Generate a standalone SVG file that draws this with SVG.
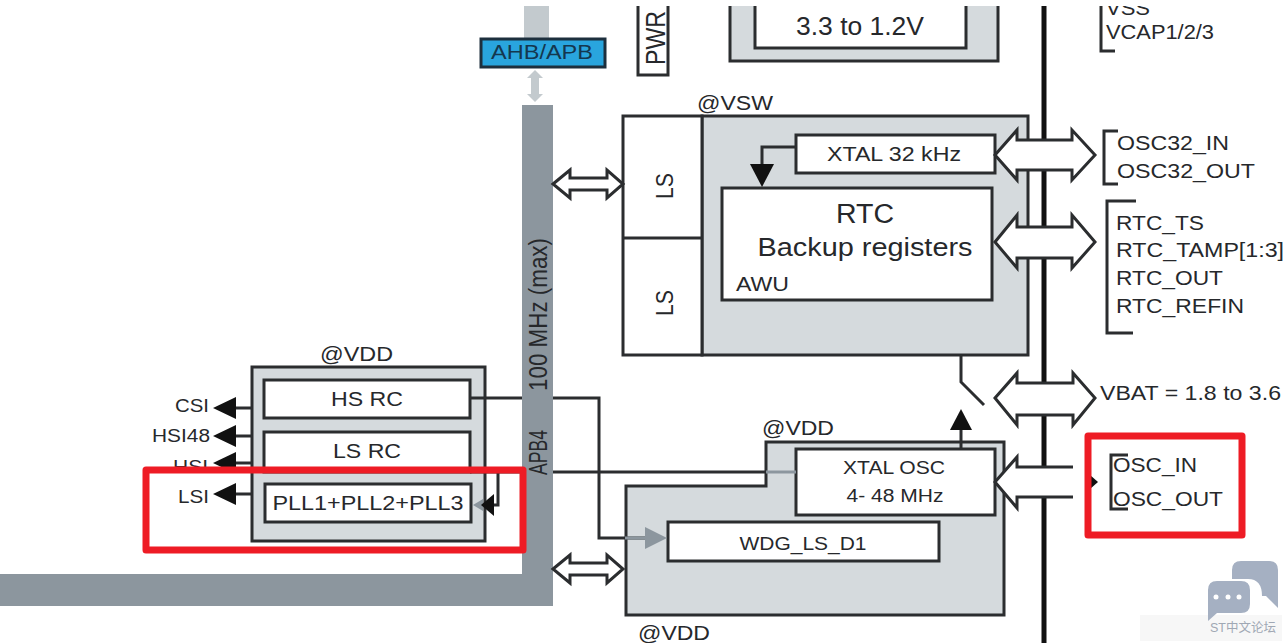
<svg xmlns="http://www.w3.org/2000/svg" width="1286" height="643" viewBox="0 0 1286 643">
<defs>
<style>
text{font-family:"Liberation Sans",Arial,sans-serif;fill:#26282b}
.m{text-anchor:middle}
.e{text-anchor:end}
.b{fill:#fff;stroke:#2b2d2f;stroke-width:3}
.g{fill:#d5dadd;stroke:#2b2d2f;stroke-width:3}
.l{fill:none;stroke:#2b2d2f;stroke-width:3}
.d{fill:#fff;stroke:#2b2d2f;stroke-width:3;stroke-linejoin:miter}
.a{fill:#111}
.r{fill:none;stroke:#ee1c25;stroke-width:7;stroke-linejoin:round}
</style>
<clipPath id="top"><rect x="0" y="6" width="1286" height="637"/></clipPath>
<clipPath id="hsi"><rect x="140" y="440" width="115" height="28"/></clipPath>
</defs>
<rect width="1286" height="643" fill="#fff"/>

<g id="buses">
<rect x="524" y="6" width="25" height="33" fill="#c3cace"/>
<path d="M535 70l8 8h-4v16h4l-8 8-8-8h4V78h-4z" fill="#c3cace"/>
<path d="M522 105h31V606H0V574H522z" fill="#8c969e"/>
<text transform="translate(547 475) rotate(-90)" font-size="25" textLength="45" lengthAdjust="spacingAndGlyphs">APB4</text>
<text transform="translate(547 391) rotate(-90)" font-size="25" textLength="153" lengthAdjust="spacingAndGlyphs">100 MHz (max)</text>
</g>

<g id="ahb-apb">
<rect x="481" y="39" width="124" height="28" fill="#29a5de" stroke="#1d2f3d" stroke-width="3"/>
<text x="542" y="59" font-size="20" class="m" style="fill:#14374f" textLength="102" lengthAdjust="spacingAndGlyphs">AHB/APB</text>
</g>

<g id="pwr" clip-path="url(#top)">
<rect x="638" y="0" width="30" height="75" class="b"/>
<text transform="translate(665 65) rotate(-90)" font-size="27" textLength="54" lengthAdjust="spacingAndGlyphs">PWR</text>
</g>

<g id="regulator" clip-path="url(#top)">
<rect x="730" y="-10" width="268" height="71" class="g"/>
<rect x="755" y="-10" width="211" height="58" class="b"/>
<text x="860" y="35" font-size="25" class="m" textLength="128" lengthAdjust="spacingAndGlyphs">3.3 to 1.2V</text>
</g>

<path id="pin-rail" d="M1044 6V643" stroke="#111" stroke-width="5" fill="none"/>

<g id="vss-pins" clip-path="url(#top)">
<path class="l" d="M1101 0V51H1115"/>
<text x="1106" y="15" font-size="20" textLength="44" lengthAdjust="spacingAndGlyphs">VSS</text>
<text x="1106" y="39" font-size="20" textLength="108" lengthAdjust="spacingAndGlyphs">VCAP1/2/3</text>
</g>

<g id="vsw-domain">
<text x="697" y="110" font-size="20" textLength="76" lengthAdjust="spacingAndGlyphs">@VSW</text>
<rect x="702" y="116" width="326" height="239" class="g"/>
<rect x="623" y="116" width="79" height="239" class="b"/>
<path class="l" d="M623 238H702"/>
<text transform="translate(673 199) rotate(-90)" font-size="23" textLength="26" lengthAdjust="spacingAndGlyphs">LS</text>
<text transform="translate(673 316) rotate(-90)" font-size="23" textLength="26" lengthAdjust="spacingAndGlyphs">LS</text>
</g>

<g id="xtal32">
<rect x="796" y="135" width="199" height="38" class="b"/>
<text x="894" y="161" font-size="20" class="m" textLength="134" lengthAdjust="spacingAndGlyphs">XTAL 32 kHz</text>
</g>

<g id="rtc">
<rect x="722" y="188" width="270" height="112" class="b"/>
<text x="865" y="223" font-size="27" class="m" textLength="58" lengthAdjust="spacingAndGlyphs">RTC</text>
<text x="865" y="256" font-size="25" class="m" textLength="215" lengthAdjust="spacingAndGlyphs">Backup registers</text>
<text x="736" y="291" font-size="21" textLength="53" lengthAdjust="spacingAndGlyphs">AWU</text>
</g>

<g id="vdd-rc">
<text x="320" y="361" font-size="20" textLength="73" lengthAdjust="spacingAndGlyphs">@VDD</text>
<rect x="252" y="367" width="233" height="174" class="g"/>
<rect x="264" y="380" width="206" height="38" class="b"/>
<text x="367" y="406" font-size="21" class="m" textLength="72" lengthAdjust="spacingAndGlyphs">HS RC</text>
<rect x="264" y="432" width="206" height="40" class="b"/>
<text x="367" y="458" font-size="21" class="m" textLength="68" lengthAdjust="spacingAndGlyphs">LS RC</text>
<rect x="265" y="484" width="206" height="38" class="b"/>
<text x="368" y="510" font-size="21" class="m" textLength="191" lengthAdjust="spacingAndGlyphs">PLL1+PLL2+PLL3</text>
</g>

<g id="vdd-osc">
<path class="g" d="M766 442H1004V615H626V486H766z"/>
<text x="762" y="435" font-size="20" textLength="72" lengthAdjust="spacingAndGlyphs">@VDD</text>
<text x="638" y="640" font-size="20" textLength="72" lengthAdjust="spacingAndGlyphs">@VDD</text>
</g>

<g id="xtal-osc">
<rect x="796" y="449" width="199" height="66" class="b"/>
<text x="894" y="474" font-size="18" class="m" textLength="102" lengthAdjust="spacingAndGlyphs">XTAL OSC</text>
<text x="895" y="502" font-size="18" class="m" textLength="97" lengthAdjust="spacingAndGlyphs">4- 48 MHz</text>
</g>

<g id="wdg">
<rect x="668" y="522" width="271" height="39" class="b"/>
<text x="803" y="550" font-size="19" class="m" textLength="127" lengthAdjust="spacingAndGlyphs">WDG_LS_D1</text>
</g>

<g id="connectors">
<path class="l" d="M470 398H522M553 398H599V538H645"/>
<path d="M625 538H648" stroke="#8c969e" stroke-width="3"/>
<path d="M645 527l22 11-22 11z" fill="#8c969e"/>
<path class="l" d="M470 472H522M553 472H766"/>
<path d="M766 472H796" stroke="#8c969e" stroke-width="3"/>
<path class="l" d="M498 472V505H490"/>
<path d="M473 505l10-6v12z" fill="#8c969e"/>
<path class="a" d="M481 505l13-11v22z"/>
<path class="l" d="M796 147H762V170"/>
<path class="a" d="M750 164h24l-12 23z"/>
<path class="l" d="M961 355V382L984 405"/>
<path class="l" d="M961 449V428"/>
<path class="a" d="M961 409l11 21H950z"/>
<path class="l" d="M252 408H232M252 436H232M252 494H232"/>
<path class="a" d="M213 408l23-11v22zM213 436l23-11v22zM213 494l23-11v22z"/>
<g clip-path="url(#hsi)"><path class="l" d="M252 463H232"/><path class="a" d="M213 463l23-11v22z"/></g>
<path class="d" d="M553 184l17-14v8h37v-8l16 14-16 14v-8H570v8z"/>
<path class="d" d="M553 569l17-14v8h37v-8l16 14-16 14v-8H570v8z"/>
<path class="d" d="M995 155l22-25v10h55v-10l23 25-23 25v-10H1017v10z"/>
<path class="d" d="M995 242l22-27v12h55v-12l23 27-23 26v-10H1017v10z"/>
<path class="d" d="M995 398l22-25v10h56v-10l22 25-22 27v-10H1017v10z"/>
<path d="M995 482l22-25v10h56v30H1017v11z" fill="#fff"/>
<path class="l" d="M1073 467H1017V457L995 482 1017 508V497H1073"/>
<path class="a" d="M1090 475l8 7-8 7z"/>
</g>

<g id="osc32-pins">
<path class="l" d="M1118 131H1104V184H1118"/>
<text x="1117" y="150" font-size="21" textLength="112" lengthAdjust="spacingAndGlyphs">OSC32_IN</text>
<text x="1117" y="178" font-size="21" textLength="138" lengthAdjust="spacingAndGlyphs">OSC32_OUT</text>
</g>

<g id="rtc-pins">
<path class="l" d="M1136 201H1107V333H1133"/>
<text x="1116" y="230" font-size="20.500" textLength="88" lengthAdjust="spacingAndGlyphs">RTC_TS</text>
<text x="1116" y="257" font-size="20.500" textLength="168" lengthAdjust="spacingAndGlyphs">RTC_TAMP[1:3]</text>
<text x="1116" y="285" font-size="20.500" textLength="107" lengthAdjust="spacingAndGlyphs">RTC_OUT</text>
<text x="1116" y="313" font-size="20.500" textLength="128" lengthAdjust="spacingAndGlyphs">RTC_REFIN</text>
</g>

<g id="vbat">
<text x="1100" y="400" font-size="20.500" textLength="181" lengthAdjust="spacingAndGlyphs">VBAT = 1.8 to 3.6</text>
</g>

<g id="osc-pins">
<path class="l" d="M1128 455H1111V509H1128"/>
<text x="1113" y="472" font-size="20.500" textLength="84" lengthAdjust="spacingAndGlyphs">OSC_IN</text>
<text x="1113" y="506" font-size="20.500" textLength="110" lengthAdjust="spacingAndGlyphs">OSC_OUT</text>
</g>

<g id="clock-labels">
<text x="175" y="412" font-size="18" textLength="34" lengthAdjust="spacingAndGlyphs">CSI</text>
<text x="152" y="442" font-size="18" textLength="58" lengthAdjust="spacingAndGlyphs">HSI48</text>
<g clip-path="url(#hsi)"><text x="173" y="473" font-size="18" textLength="35" lengthAdjust="spacingAndGlyphs">HSI</text></g>
<text x="178" y="503" font-size="18" textLength="31" lengthAdjust="spacingAndGlyphs">LSI</text>
</g>

<g id="highlights">
<rect x="146" y="470" width="377" height="80" class="r"/>
<rect x="1088" y="436" width="154" height="99" class="r"/>
</g>

<g id="watermark">
<rect x="1140" y="615" width="142" height="26" fill="#f7f7f7"/>
<path d="M1232 570q0-9 9-9h28q9 0 9 9v38l-12-12h-4q0-17-14-17h-16z" fill="#a5b0c2"/>
<path d="M1208 590q0-9 9-9h24q9 0 9 9v14q0 9-9 9h-24l-9 8z" fill="#a5b0c2"/>
<circle cx="1216" cy="597" r="2.500" fill="#fff"/><circle cx="1228" cy="597" r="2.500" fill="#fff"/><circle cx="1239" cy="597" r="2.500" fill="#fff"/>
<text x="1210" y="632" font-size="12.500" style="fill:#a0a8b4;font-family:'Liberation Sans','Noto Sans CJK SC',sans-serif">ST中文论坛</text>
</g>
</svg>
